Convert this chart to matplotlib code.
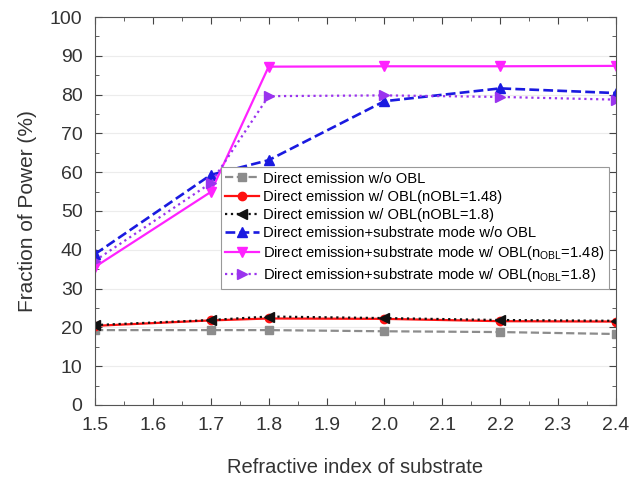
import matplotlib
matplotlib.use('Agg')
import matplotlib.pyplot as plt
from matplotlib.ticker import MultipleLocator

plt.rcParams['font.family'] = ['Liberation Sans', 'DejaVu Sans']
plt.rcParams['mathtext.fontset'] = 'custom'
plt.rcParams['mathtext.rm'] = 'Liberation Sans'

# refractive index of substrate
n_sub = [1.5, 1.7, 1.8, 2.0, 2.2, 2.4]

# fraction of power (%)
direct_no_obl = [19.3, 19.3, 19.3, 19.0, 18.8, 18.3]
direct_obl_148 = [20.4, 21.8, 22.3, 22.2, 21.6, 21.5]
direct_obl_18 = [20.6, 21.9, 22.8, 22.4, 21.9, 21.7]
sub_no_obl = [38.9, 59.3, 63.1, 78.3, 81.6, 80.4]
sub_obl_148 = [35.6, 54.9, 87.2, 87.3, 87.3, 87.4]
sub_obl_18 = [37.2, 57.2, 79.6, 79.8, 79.4, 78.7]

labels = [
    'Direct emission w/o OBL',
    'Direct emission w/ OBL(nOBL=1.48)',
    'Direct emission w/ OBL(nOBL=1.8)',
    'Direct emission+substrate mode w/o OBL',
    r'Direct emission+substrate mode w/ OBL(n$_{\mathrm{OBL}}$=1.48)',
    r'Direct emission+substrate mode w/ OBL(n$_{\mathrm{OBL}}$=1.8)',
]

fig = plt.figure(figsize=(6.31, 4.83), dpi=100)
ax = fig.add_axes([0.1506, 0.1615, 0.8254, 0.8033])

ax.plot(n_sub, direct_no_obl, ls='--', color='#8c8c8c', marker='s', ms=6, lw=1.6, label=labels[0])
ax.plot(n_sub, direct_obl_148, ls='-', color='#ff1010', marker='o', ms=6, lw=1.6, label=labels[1])
ax.plot(n_sub, direct_obl_18, ls=':', color='#111111', marker='<', ms=7, lw=1.6, label=labels[2])
ax.plot(n_sub, sub_no_obl, ls='--', color='#1a1ae0', marker='^', ms=7, lw=1.9, label=labels[3])
ax.plot(n_sub, sub_obl_148, ls='-', color='#ff22ff', marker='v', ms=7, lw=1.6, label=labels[4])
ax.plot(n_sub, sub_obl_18, ls=':', color='#9a33ee', marker='>', ms=7, lw=1.6, label=labels[5])

ax.set_xlim(1.5, 2.4)
ax.set_ylim(0, 100)
ax.xaxis.set_major_locator(MultipleLocator(0.1))
ax.xaxis.set_minor_locator(MultipleLocator(0.05))
ax.yaxis.set_major_locator(MultipleLocator(10))
ax.yaxis.set_minor_locator(MultipleLocator(5))
ax.tick_params(which='both', direction='in', top=True, right=True, labelsize=14,
               color='#444444', labelcolor='#333333')
ax.tick_params(which='major', length=5)
ax.tick_params(which='minor', length=3)
ax.tick_params(axis='x', which='major', pad=9)
ax.tick_params(axis='y', which='major', pad=9)
ax.grid(axis='y', color='#ececec', lw=0.8)
ax.set_axisbelow(True)
for s in ax.spines.values():
    s.set_color('#555555')

ax.set_xlabel('Refractive index of substrate', fontsize=14.5, color='#333333', labelpad=17)
ax.set_ylabel('Fraction of Power (%)', fontsize=15, color='#333333', labelpad=9)

leg = ax.legend(loc='upper left', bbox_to_anchor=(0.242, 0.613), borderaxespad=0,
                fontsize=10.6, handlelength=2.3, handletextpad=0.25, borderpad=0.3,
                labelspacing=0.28, fancybox=False, framealpha=1, edgecolor='#999999')
leg.get_frame().set_linewidth(0.8)

fig.savefig('out.png', dpi=100)
